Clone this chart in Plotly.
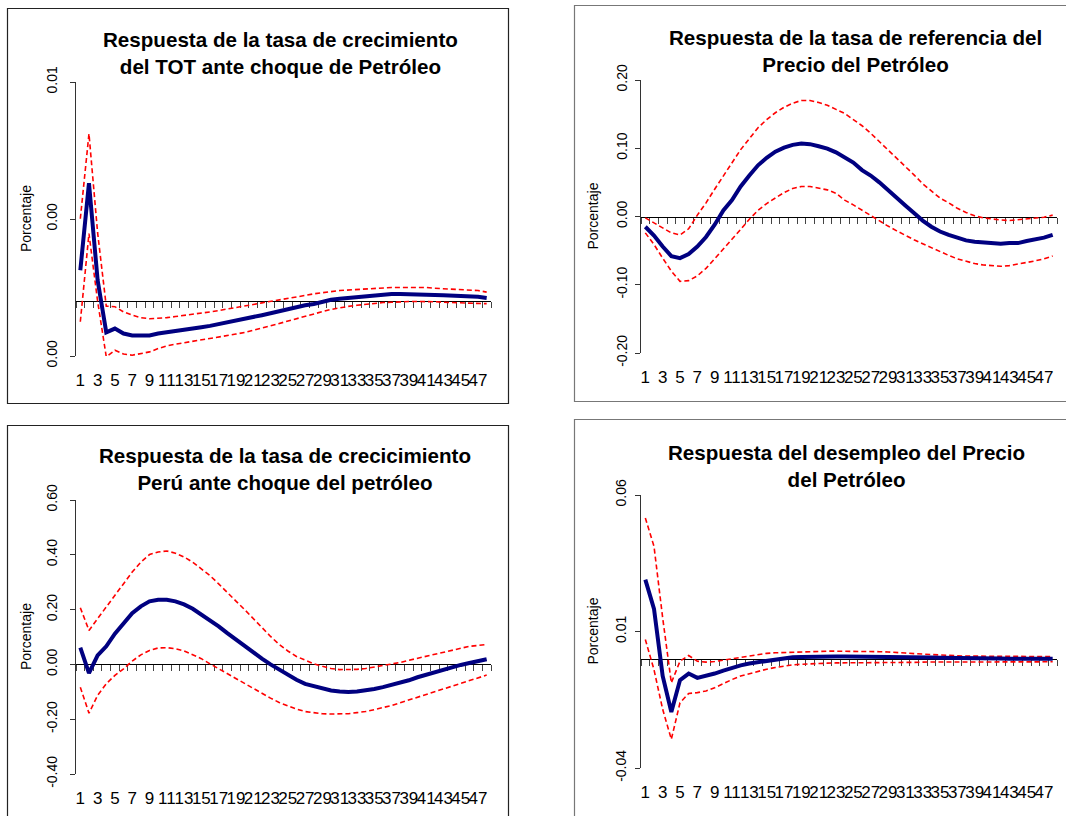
import plotly.graph_objects as go

W, H = 1066, 816

# ---------------- data ----------------
periods = list(range(1, 49))
x_tick_vals = list(range(1, 49, 2))
x_tick_text = [str(v) for v in x_tick_vals]
category_bounds = [k + 0.5 for k in range(0, 49)]

# Panel 1: TOT growth response
tot_resp = [0.00113, 0.00431, 0.00077, -0.00114, -0.00100, -0.00118, -0.00125, -0.00125, -0.00125, -0.00118,
            -0.00114, -0.00108, -0.00104, -0.00101, -0.00095, -0.00090, -0.00084, -0.00078, -0.00070, -0.00063,
            -0.00058, -0.00051, -0.00044, -0.00036, -0.00029, -0.00022, -0.00015, -0.00010, -0.00002, 0.00005,
            0.00009, 0.00012, 0.00016, 0.00019, 0.00022, 0.00023, 0.00026, 0.00026, 0.00026, 0.00026,
            0.00026, 0.00023, 0.00022, 0.00021, 0.00018, 0.00018, 0.00016, 0.00012]
tot_upper = [0.00301, 0.00611, 0.00250, -0.00018, -0.00020, -0.00039, -0.00051, -0.00060, -0.00064, -0.00063,
             -0.00060, -0.00056, -0.00052, -0.00049, -0.00044, -0.00039, -0.00034, -0.00029, -0.00023, -0.00018,
             -0.00012, -0.00006, -0.00001, 0.00005, 0.00011, 0.00016, 0.00021, 0.00027, 0.00032, 0.00035,
             0.00039, 0.00041, 0.00044, 0.00046, 0.00047, 0.00048, 0.00050, 0.00050, 0.00050, 0.00050,
             0.00050, 0.00047, 0.00045, 0.00044, 0.00041, 0.00040, 0.00039, 0.00033]
tot_lower = [-0.00075, 0.00247, 0.00000, -0.00203, -0.00179, -0.00193, -0.00197, -0.00191, -0.00185, -0.00173,
             -0.00163, -0.00157, -0.00152, -0.00146, -0.00141, -0.00136, -0.00131, -0.00125, -0.00120, -0.00114,
             -0.00107, -0.00098, -0.00090, -0.00081, -0.00073, -0.00064, -0.00055, -0.00046, -0.00038, -0.00030,
             -0.00024, -0.00019, -0.00015, -0.00011, -0.00007, -0.00005, -0.00004, -0.00002, -0.00001, -0.00001,
             -0.00001, -0.00002, -0.00004, -0.00005, -0.00006, -0.00007, -0.00007, -0.00009]
tot_ytick_vals = [-0.002, 0.003, 0.008]
tot_ytick_text = ["0.00", "0.00", "0.01"]

# Panel 2: reference rate response
ref_resp = [-0.015, -0.028, -0.044, -0.058, -0.061, -0.055, -0.044, -0.030, -0.012, 0.009,
            0.024, 0.044, 0.060, 0.075, 0.086, 0.095, 0.101, 0.105, 0.107, 0.106,
            0.103, 0.0995, 0.094, 0.087, 0.079, 0.068, 0.060, 0.050, 0.038, 0.026,
            0.016, 0.005, -0.006, -0.015, -0.022, -0.027, -0.031, -0.035, -0.037, -0.038,
            -0.039, -0.040, -0.039, -0.039, -0.036, -0.034, -0.031, -0.027]
ref_upper = [-0.002, -0.009, -0.017, -0.024, -0.027, -0.018, 0.002, 0.020, 0.040, 0.060,
             0.080, 0.098, 0.114, 0.130, 0.142, 0.152, 0.160, 0.166, 0.170, 0.170,
             0.167, 0.163, 0.157, 0.151, 0.142, 0.133, 0.122, 0.110, 0.098, 0.085,
             0.073, 0.061, 0.048, 0.037, 0.027, 0.020, 0.012, 0.006, 0.001, -0.002,
             -0.004, -0.005, -0.006, -0.005, -0.004, -0.003, -0.001, 0.002]
ref_lower = [-0.024, -0.041, -0.061, -0.080, -0.095, -0.094, -0.087, -0.076, -0.062, -0.048,
             -0.033, -0.019, -0.004, 0.009, 0.019, 0.027, 0.035, 0.041, 0.044, 0.044,
             0.042, 0.039, 0.034, 0.024, 0.017, 0.009, 0.001, -0.007, -0.014, -0.021,
             -0.028, -0.034, -0.040, -0.046, -0.052, -0.057, -0.062, -0.066, -0.069, -0.071,
             -0.072, -0.073, -0.072, -0.070, -0.068, -0.065, -0.062, -0.058]
ref_ytick_vals = [-0.2, -0.1, 0.0, 0.1, 0.2]
ref_ytick_text = ["-0.20", "-0.10", "0.00", "0.10", "0.20"]

# Panel 3: Peru growth response
peru_resp = [0.061, -0.032, 0.033, 0.066, 0.112, 0.148, 0.187, 0.212, 0.230, 0.236,
             0.236, 0.230, 0.219, 0.203, 0.182, 0.161, 0.139, 0.114, 0.090, 0.066,
             0.041, 0.021, 0.000, -0.019, -0.039, -0.056, -0.071, -0.080, -0.089, -0.095,
             -0.099, -0.101, -0.099, -0.095, -0.090, -0.083, -0.075, -0.067, -0.058, -0.047,
             -0.038, -0.028, -0.017, -0.010, -0.002, 0.005, 0.012, 0.019]
peru_upper = [0.207, 0.124, 0.167, 0.209, 0.252, 0.294, 0.337, 0.373, 0.401, 0.410,
              0.414, 0.406, 0.392, 0.373, 0.349, 0.324, 0.294, 0.264, 0.231, 0.200,
              0.167, 0.134, 0.102, 0.073, 0.049, 0.029, 0.015, 0.002, -0.007, -0.015,
              -0.019, -0.019, -0.018, -0.015, -0.010, -0.005, 0.000, 0.007, 0.015, 0.022,
              0.029, 0.036, 0.044, 0.051, 0.058, 0.066, 0.069, 0.073]
peru_lower = [-0.083, -0.178, -0.113, -0.071, -0.040, -0.016, 0.012, 0.035, 0.051, 0.060,
              0.061, 0.057, 0.049, 0.036, 0.021, 0.002, -0.016, -0.034, -0.052, -0.071,
              -0.089, -0.107, -0.123, -0.139, -0.152, -0.163, -0.172, -0.176, -0.180, -0.181,
              -0.181, -0.180, -0.176, -0.172, -0.165, -0.158, -0.150, -0.140, -0.130, -0.120,
              -0.109, -0.099, -0.088, -0.078, -0.068, -0.058, -0.049, -0.039]
peru_ytick_vals = [-0.4, -0.2, 0.0, 0.2, 0.4, 0.6]
peru_ytick_text = ["-0.40", "-0.20", "0.00", "0.20", "0.40", "0.60"]

# Panel 4: unemployment response
des_resp = [0.0290, 0.0183, -0.0063, -0.0195, -0.0078, -0.0054, -0.0070, -0.0063, -0.0054, -0.0043,
            -0.0033, -0.0024, -0.0017, -0.0012, -0.0007, -0.0002, 0.0002, 0.0006, 0.0007, 0.0008,
            0.0008, 0.0008, 0.0008, 0.0008, 0.0008, 0.0008, 0.0008, 0.0008, 0.0007, 0.0007,
            0.0006, 0.0006, 0.0006, 0.0005, 0.0004, 0.0004, 0.0003, 0.0003, 0.0002, 0.0001,
            0.0001, 0.0001, 0.0000, 0.0000, 0.0000, 0.0000, 0.0000, 0.0000]
des_upper = [0.0516, 0.0412, 0.0150, -0.0088, -0.0009, 0.0012, -0.0009, -0.0012, -0.0010, -0.0005,
             0.0000, 0.0005, 0.0012, 0.0017, 0.0020, 0.0022, 0.0023, 0.0026, 0.0027, 0.0028,
             0.0028, 0.0028, 0.0028, 0.0028, 0.0028, 0.0028, 0.0027, 0.0026, 0.0025, 0.0022,
             0.0021, 0.0019, 0.0017, 0.0015, 0.0014, 0.0012, 0.0011, 0.0010, 0.0010, 0.0010,
             0.0010, 0.0010, 0.0010, 0.0010, 0.0010, 0.0010, 0.0009, 0.0008]
des_lower = [0.0071, -0.0040, -0.0185, -0.0295, -0.0161, -0.0127, -0.0124, -0.0118, -0.0106, -0.0090,
             -0.0076, -0.0063, -0.0054, -0.0045, -0.0038, -0.0032, -0.0026, -0.0022, -0.0020, -0.0018,
             -0.0017, -0.0016, -0.0015, -0.0015, -0.0015, -0.0015, -0.0015, -0.0015, -0.0014, -0.0014,
             -0.0013, -0.0013, -0.0012, -0.0012, -0.0012, -0.0012, -0.0012, -0.0011, -0.0011, -0.0011,
             -0.0011, -0.0011, -0.0011, -0.0011, -0.0011, -0.0011, -0.0011, -0.0011]
des_ytick_vals = [-0.04, 0.01, 0.06]
des_ytick_text = ["-0.04", "0.01", "0.06"]

titles = [
    "Respuesta de la tasa de crecimiento<br>del TOT ante choque de Petróleo",
    "Respuesta de la tasa de referencia del<br>Precio del Petróleo",
    "Respuesta de la tasa de crecicimiento<br>Perú ante choque del petróleo",
    "Respuesta del desempleo del Precio<br>del Petróleo",
]
y_axis_title = "Porcentaje"

# ---------------- layout helpers ----------------
def fx(px):
    return px / W

def fy(py):
    return 1 - py / H

FONT = "Liberation Sans, Arial, sans-serif"

panels = [
    dict(resp=tot_resp, up=tot_upper, lo=tot_lower, yr=[-0.002, 0.008],
         tv=tot_ytick_vals, tt=tot_ytick_text,
         box=(76, 491, 82, 356), title_xy=(280, 26), ytitle_x=26,
         frame=(7.5, 508.5, 8.5, 403.5), frame_col="#222", ystand=7),
    dict(resp=ref_resp, up=ref_upper, lo=ref_lower, yr=[-0.2, 0.2],
         tv=ref_ytick_vals, tt=ref_ytick_text,
         box=(641, 1057, 80, 353), title_xy=(855, 24), ytitle_x=592,
         frame=(574.5, 1075, 5.5, 401.5), frame_col="#777", ystand=2),
    dict(resp=peru_resp, up=peru_upper, lo=peru_lower, yr=[-0.4, 0.6],
         tv=peru_ytick_vals, tt=peru_ytick_text,
         box=(76, 491, 500, 774), title_xy=(285, 442), ytitle_x=26,
         frame=(7.5, 508.5, 425.5, 830), frame_col="#222", ystand=7),
    dict(resp=des_resp, up=des_upper, lo=des_lower, yr=[-0.04, 0.06],
         tv=des_ytick_vals, tt=des_ytick_text,
         box=(641, 1057, 495, 768), title_xy=(846, 439), ytitle_x=592,
         frame=(574.5, 1075, 419.5, 830), frame_col="#777", ystand=3),
]

fig = go.Figure()
layout = dict(
    width=W, height=H, margin=dict(l=0, r=0, t=0, b=0, autoexpand=False),
    paper_bgcolor="white", plot_bgcolor="white", showlegend=False,
    font=dict(family=FONT, color="black"),
)
annotations = []
shapes = []

for i, p in enumerate(panels, start=1):
    sfx = "" if i == 1 else str(i)
    xa, ya = "x" + sfx, "y" + sfx
    za = "x" + str(4 + i)
    x0, x1, yt, yb = p["box"]
    xdom = [fx(x0), fx(x1)]
    ydom = [fy(yb), fy(yt)]
    ymin, ymax = p["yr"]

    for band in (p["up"], p["lo"]):
        fig.add_trace(go.Scatter(x=periods, y=band, mode="lines", xaxis=xa, yaxis=ya,
                                 line=dict(color="#FF0000", width=1.6, dash="5px,3px"),
                                 hoverinfo="skip"))
    fig.add_trace(go.Scatter(x=periods, y=p["resp"], mode="lines", xaxis=xa, yaxis=ya,
                             line=dict(color="#000080", width=4), hoverinfo="skip"))
    # carrier for the category axis drawn at zero
    fig.add_trace(go.Scatter(x=[None], y=[None], xaxis=za, yaxis=ya, showlegend=False,
                             hoverinfo="skip"))

    layout["xaxis" + sfx] = dict(
        domain=xdom, anchor=ya, range=[0.5, 48.5], tickmode="array",
        tickvals=x_tick_vals, ticktext=x_tick_text, tickangle=0, ticks="",
        showline=False, showgrid=False, zeroline=False, automargin=False,
        tickfont=dict(size=17, family=FONT, color="black"), ticklabelstandoff=12,
    )
    layout["yaxis" + sfx] = dict(
        domain=ydom, anchor=xa, range=[ymin, ymax], tickmode="array",
        tickvals=p["tv"], ticktext=p["tt"], tickangle=-90, ticks="outside",
        ticklen=5, tickcolor="#333", showline=True, linecolor="#333", linewidth=1,
        showgrid=False, zeroline=False, automargin=False,
        tickfont=dict(size=14, family=FONT, color="black"), ticklabelstandoff=p["ystand"],
    )
    zero_pos = ydom[0] + (0 - ymin) / (ymax - ymin) * (ydom[1] - ydom[0])
    layout["xaxis" + str(4 + i)] = dict(
        overlaying=xa, anchor="free", position=zero_pos, range=[0.5, 48.5],
        tickmode="array", tickvals=category_bounds, ticks="outside", ticklen=6,
        tickcolor="#444", tickwidth=1, showline=True, linecolor="black", linewidth=1,
        showticklabels=False, showgrid=False, zeroline=False, layer="below traces",
        automargin=False,
    )

    tx, ty = p["title_xy"]
    annotations.append(dict(
        text="<b>" + titles[i - 1] + "</b>", xref="paper", yref="paper",
        x=fx(tx), y=fy(ty), xanchor="center", yanchor="top", showarrow=False,
        font=dict(size=20.6, family=FONT, color="black"), align="center",
    ))
    annotations.append(dict(
        text=y_axis_title, xref="paper", yref="paper",
        x=fx(p["ytitle_x"]), y=(ydom[0] + ydom[1]) / 2, xanchor="center", yanchor="middle",
        textangle=-90, showarrow=False, font=dict(size=14, family=FONT, color="black"),
    ))
    fx0, fx1, fy0, fy1 = p["frame"]
    shapes.append(dict(type="rect", xref="paper", yref="paper",
                       x0=fx(fx0), x1=fx(fx1), y0=fy(fy1), y1=fy(fy0),
                       line=dict(color=p["frame_col"], width=1.2), layer="below"))

layout["annotations"] = annotations
layout["shapes"] = shapes
fig.update_layout(**layout)
fig.write_html("out.html")
